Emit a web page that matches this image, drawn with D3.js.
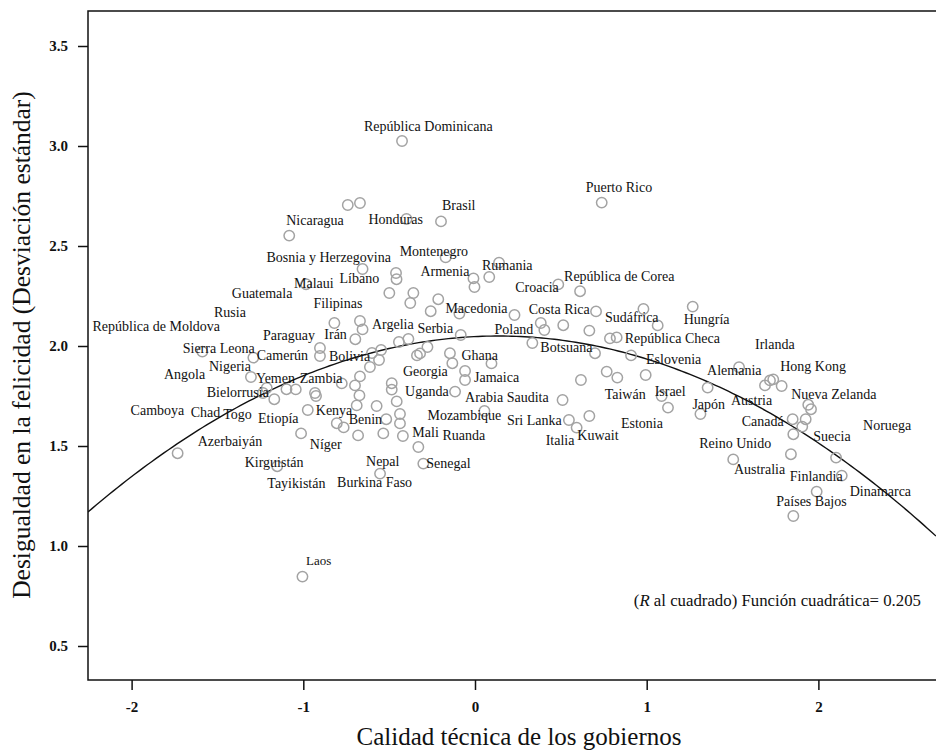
<!DOCTYPE html>
<html>
<head>
<meta charset="utf-8">
<script src="https://cdn.jsdelivr.net/npm/d3@7/dist/d3.min.js"></script>
<style>
  html, body { margin: 0; padding: 0; background: #fff; }
  svg { display: block; }
  text { font-family: "Liberation Serif", "Times New Roman", serif; fill: #111; }
</style>
</head>
<body>
<svg id="chart" width="936" height="753"></svg>
<script>
// Country names (empty string = point drawn without a label)
const countries = [
  "República Dominicana","Puerto Rico","Brasil","Honduras","Nicaragua","Guatemala","","Montenegro",
  "Bosnia y Herzegovina","","Líbano","Armenia","","","Rumania","Malaui","","","","","",
  "Macedonia","Filipinas","Argelia","","Irán","","Serbia","","","Poland","Croacia",
  "República de Corea","Costa Rica","","","","","Sudáfrica","","Hungría","","República Checa",
  "Botsuana","","Eslovenia","Paraguay","Bolivia","","","","","","","Georgia","","Jamaica","",
  "Ghana","Uganda","Mozambique","Arabia Saudita","Sri Lanka","Italia","Kuwait","","Taiwán","","",
  "Israel","Estonia","","Japón","Alemania","Austria","Irlanda","Hong Kong","","Nueva Zelanda","",
  "Canadá","","","Suecia","Australia","Reino Unido","Noruega","Finlandia","Dinamarca","Países Bajos",
  "Sierra Leona","Camerún","Yemen","Bielorrusia","Rusia","Togo","República de Moldova","Zambia",
  "Nigeria","Angola","Kenya","Etiopía","Níger","Benin","Burkina Faso","Chad","","","","Azerbaiyán",
  "","","Tayikistán","","","","","","Ruanda","Mali","Senegal","Nepal","Kirguistán","Camboya","Laos"
];

// Technical quality of government (x)
const quality = [
  -0.425, 0.738, -0.198, -0.399, -1.082, -0.741, -0.670, -0.171,
  -0.655, -0.460, -0.457, -0.009, -0.003, 0.083, 0.140, -0.984, -0.499, -0.359, -0.377, -0.214, -0.258,
  -0.091, -0.819, -0.670, -0.655, -0.697, -0.443, -0.388, -0.277, -0.083, 0.230, 0.485,
  0.612, 0.383, 0.404, 0.514, 0.666, 0.705, 0.981, 1.064, 1.268, 0.786, 0.825,
  0.334, 0.699, 0.909, -0.903, -0.903, -0.600, -0.547, -0.559, -0.612, -0.338, -0.320, -0.146, -0.132, -0.058, -0.058,
  0.096, -0.116, 0.055, 0.510, 0.547, 0.592, 0.666, 0.617, 0.767, 0.829, 0.994,
  1.087, 1.124, 1.355, 1.313, 1.538, 1.689, 1.718, 1.737, 1.786, 1.941, 1.957,
  1.850, 1.926, 1.906, 1.854, 1.840, 1.504, 2.103, 2.136, 1.990, 1.854,
  -1.588, -1.291, -1.305, -1.213, -1.235, -1.169, -1.098, -1.044,
  -0.932, -0.926, -0.974, -1.013, -0.805, -0.765, -0.681, -0.776, -0.670, -0.699, -0.673, -0.689,
  -0.573, -0.517, -0.534, -0.485, -0.485, -0.456, -0.437, -0.437, -0.420, -0.330, -0.301, -0.553, -1.152, -1.732, -1.005
];

// Inequality of happiness, standard deviation (y)
const inequality = [
  3.025, 2.717, 2.623, 2.635, 2.552, 2.705, 2.715, 2.443,
  2.385, 2.365, 2.334, 2.338, 2.295, 2.345, 2.417, 2.309, 2.265, 2.265, 2.215, 2.234, 2.174,
  2.162, 2.115, 2.125, 2.083, 2.034, 2.020, 2.035, 1.995, 2.055, 2.155, 2.308,
  2.274, 2.115, 2.080, 2.104, 2.077, 2.173, 2.185, 2.103, 2.197, 2.038, 2.043,
  2.015, 1.964, 1.953, 1.990, 1.950, 1.965, 1.980, 1.930, 1.895, 1.953, 1.963, 1.964, 1.914, 1.875, 1.830,
  1.913, 1.772, 1.675, 1.730, 1.630, 1.592, 1.650, 1.830, 1.872, 1.842, 1.855,
  1.750, 1.692, 1.792, 1.660, 1.894, 1.803, 1.828, 1.833, 1.800, 1.706, 1.684,
  1.634, 1.634, 1.597, 1.559, 1.459, 1.433, 1.442, 1.352, 1.272, 1.150,
  1.972, 1.942, 1.845, 1.790, 1.765, 1.734, 1.784, 1.783,
  1.765, 1.750, 1.680, 1.563, 1.614, 1.593, 1.553, 1.813, 1.848, 1.803, 1.753, 1.703,
  1.700, 1.634, 1.563, 1.814, 1.782, 1.723, 1.660, 1.613, 1.550, 1.495, 1.412, 1.362, 1.399, 1.464, 0.847
];

// Quadratic fit: y = a + b*x + c*x^2
const fitCoef = [2.047, 0.042, -0.154];
const fitR2 = "0.205";

const xTicks = [-2, -1, 0, 1, 2];
const yTicks = [0.5, 1.0, 1.5, 2.0, 2.5, 3.0, 3.5];

// Label placement nudges (pixels from the marker centre)
const labelNudge = {
  "República Dominicana": [-38, -15], "Puerto Rico": [-16, -15], "Brasil": [1, -16],
  "Honduras": [-38, 0], "Nicaragua": [-3, -15], "Guatemala": [-116, 88],
  "Bosnia y Herzegovina": [-96, -12], "Montenegro": [-46, -6], "Líbano": [-57, -1],
  "Armenia": [-53, -7], "Rumania": [-17, 3], "Croacia": [-43, 3], "República de Corea": [-16, -15],
  "Malaui": [-12, -1], "Rusia": [-49, -81], "Filipinas": [-21, -20], "República de Moldova": [-194, -63],
  "Macedonia": [-14, -5], "Costa Rica": [-12, -14], "Sudáfrica": [-38.5, 8], "Hungría": [-9, 13],
  "Argelia": [12, 3], "Serbia": [9, -11], "Poland": [-20, 14], "República Checa": [8, 1.5],
  "Irlanda": [-15, -36], "Paraguay": [-57, -12.5], "Irán": [-31, -5], "Botsuana": [8, 4],
  "Sierra Leona": [-19.6, -3.4], "Camerún": [3.4, -2], "Bolivia": [9, 0], "Ghana": [-30, -7.5],
  "Eslovenia": [15, 4], "Hong Kong": [7, -12.5], "Alemania": [-32, 3], "Nigeria": [-106, -27],
  "Georgia": [-47, 18], "Jamaica": [9, 6], "Angola": [-152, -22], "Yemen": [5, 1], "Zambia": [4, -11],
  "Taiwán": [-2, 23], "Israel": [-7, -5], "Nueva Zelanda": [-17, -10.5], "Uganda": [-50, 0],
  "Bielorrusia": [-60, 4], "Arabia Saudita": [-97.5, -3], "Japón": [-8, -9.5], "Austria": [-34, 15.5],
  "Camboya": [-47, -43], "Chad": [-151, 29], "Togo": [-51, 15], "Etiopía": [-43, -15], "Kenya": [8, 0],
  "Benin": [5, -7.5], "Mozambique": [-57, 4], "Sri Lanka": [-62, 0], "Estonia": [-47, 15.5],
  "Canadá": [-51, 2.5], "Noruega": [27, -32], "Suecia": [20, 2], "Azerbaiyán": [-159, 36],
  "Níger": [-27, 21], "Mali": [-6, -15], "Ruanda": [39.5, -1], "Italia": [-31, 13], "Kuwait": [-12, 19],
  "Reino Unido": [-34, -16], "Kirguistán": [-32.5, -4], "Nepal": [-14, -12], "Senegal": [3, 0],
  "Australia": [-57, 15], "Finlandia": [-52, 1], "Dinamarca": [33, 0], "Tayikistán": [-116, 50],
  "Burkina Faso": [-21, 47], "Países Bajos": [-17, -15], "Laos": [3.5, -16]
};

const svg = d3.select("#chart");
const plot = { left: 88, top: 11, right: 936, bottom: 680 };

const x = d3.scaleLinear().domain([-2.254, 2.685]).range([plot.left, plot.right]);
const y = d3.scaleLinear().domain([0.33, 3.675]).range([plot.bottom, plot.top]);

const points = countries.map((name, i) => ({ name, q: quality[i], s: inequality[i] }));

svg.append("defs").append("clipPath").attr("id", "plotClip")
  .append("rect")
  .attr("x", plot.left).attr("y", plot.top)
  .attr("width", plot.right - plot.left).attr("height", plot.bottom - plot.top);

// Frame
svg.append("rect")
  .attr("x", plot.left).attr("y", plot.top)
  .attr("width", plot.right - plot.left + 4).attr("height", plot.bottom - plot.top)
  .attr("fill", "none").attr("stroke", "#111").attr("stroke-width", 1.5);

// Axes
const xAxis = svg.append("g")
  .attr("transform", `translate(0,${plot.bottom})`)
  .call(d3.axisBottom(x).tickValues(xTicks).tickSize(10).tickSizeOuter(0).tickFormat(d => String(d)));
xAxis.select(".domain").remove();
xAxis.selectAll(".tick line").attr("stroke", "#111").attr("stroke-width", 1.5);
xAxis.selectAll(".tick text")
  .attr("y", 21).attr("dy", "0.71em")
  .style("font-family", "Liberation Serif, serif")
  .style("font-size", "15px").style("font-weight", "bold").attr("fill", "#111");

const yAxis = svg.append("g")
  .attr("transform", `translate(${plot.left},0)`)
  .call(d3.axisLeft(y).tickValues(yTicks).tickSize(10).tickSizeOuter(0).tickFormat(d3.format(".1f")));
yAxis.select(".domain").remove();
yAxis.selectAll(".tick line").attr("stroke", "#111").attr("stroke-width", 1.5);
yAxis.selectAll(".tick text")
  .attr("x", -20)
  .style("font-family", "Liberation Serif, serif")
  .style("font-size", "15px").style("font-weight", "bold").attr("fill", "#111");

// Axis titles
svg.append("text")
  .attr("x", 519).attr("y", 736)
  .attr("text-anchor", "middle").attr("dominant-baseline", "central")
  .style("font-size", "25px")
  .text("Calidad técnica de los gobiernos");

svg.append("text")
  .attr("transform", "translate(21,345) rotate(-90)")
  .attr("text-anchor", "middle").attr("dominant-baseline", "central")
  .style("font-size", "25.5px")
  .text("Desigualdad en la felicidad (Desviación estándar)");

const body = svg.append("g").attr("clip-path", "url(#plotClip)");

// Quadratic fit line
const fit = q => fitCoef[0] + fitCoef[1] * q + fitCoef[2] * q * q;
const qs = d3.range(0, 201).map(i => x.domain()[0] + (x.domain()[1] - x.domain()[0]) * i / 200);
body.append("path")
  .datum(qs)
  .attr("fill", "none").attr("stroke", "#111").attr("stroke-width", 1.4)
  .attr("d", d3.line().x(q => x(q)).y(q => y(fit(q))));

// Points
body.append("g").selectAll("circle")
  .data(points)
  .join("circle")
  .attr("cx", d => x(d.q)).attr("cy", d => y(d.s))
  .attr("r", 5.2)
  .attr("fill", "none").attr("stroke", "#a3a3a3").attr("stroke-width", 1.5);

// Country labels
body.append("g").selectAll("text")
  .data(points.filter(d => d.name))
  .join("text")
  .attr("x", d => x(d.q) + (labelNudge[d.name] || [6, -10])[0])
  .attr("y", d => y(d.s) + (labelNudge[d.name] || [6, -10])[1])
  .attr("dominant-baseline", "central")
  .style("font-size", d => d.name === "Laos" ? "13px" : "14px")
  .text(d => d.name);

// Fit statistic
const note = svg.append("text")
  .attr("x", 921).attr("y", 600)
  .attr("text-anchor", "end").attr("dominant-baseline", "central")
  .style("font-size", "16.8px");
note.append("tspan").text("(");
note.append("tspan").style("font-style", "italic").text("R");
note.append("tspan").text(` al cuadrado) Función cuadrática= ${fitR2}`);
</script>
</body>
</html>
